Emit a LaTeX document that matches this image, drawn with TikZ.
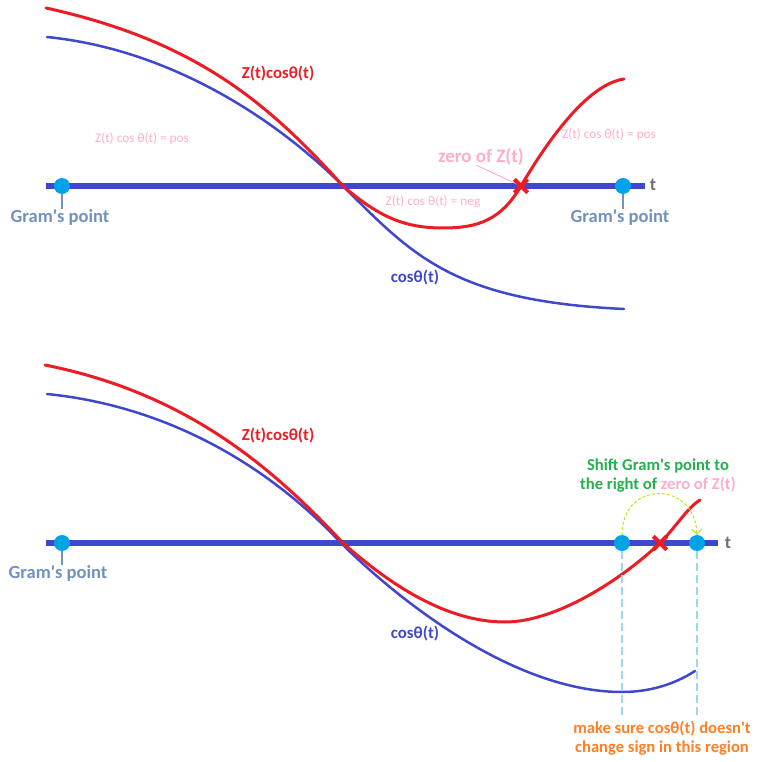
\documentclass[tikz,border=0pt]{standalone}
\usepackage{fontspec}
\setmainfont{Carlito}
\usetikzlibrary{arrows.meta}
\definecolor{axisblue}{RGB}{63,72,204}
\definecolor{curvered}{RGB}{237,28,36}
\definecolor{dotblue}{RGB}{0,162,232}
\definecolor{gramgray}{RGB}{112,146,190}
\definecolor{pinktext}{RGB}{255,174,201}
\definecolor{greentext}{RGB}{34,177,76}
\definecolor{orangetext}{RGB}{255,127,39}
\definecolor{tgray}{RGB}{112,112,112}
\definecolor{lightturq}{RGB}{153,217,234}
\definecolor{limegreen}{RGB}{181,230,29}
\newcommand{\ap}{\textquotesingle}
\tikzset{
  axisline/.style={draw=axisblue,line width=5.5pt},
  redcurve/.style={draw=curvered,line width=3pt,line cap=round},
  bluecurve/.style={draw=axisblue,line width=2.5pt,line cap=round},
  gramdot/.style={circle,fill=dotblue,minimum size=16pt,inner sep=0pt},
  gramlabel/.style={text=gramgray,font=\bfseries\fontsize{18.5}{21}\selectfont,inner sep=0pt},
  ticklink/.style={draw=gramgray,line width=1.2pt},
  signlabel/.style={text=pinktext,font=\fontsize{13.3}{15}\selectfont,inner sep=0pt},
  zerolabel/.style={text=pinktext,font=\bfseries\fontsize{19}{22}\selectfont,inner sep=0pt},
  curvelabelred/.style={text=curvered,font=\bfseries\fontsize{16.8}{19}\selectfont,inner sep=0pt},
  curvelabelblue/.style={text=axisblue,font=\bfseries\fontsize{16.8}{19}\selectfont,inner sep=0pt},
  tlabel/.style={text=tgray,font=\bfseries\fontsize{18}{21}\selectfont,inner sep=0pt},
  xmark/.style={inner sep=0pt,minimum size=13pt},
  xstroke/.style={draw=curvered,line width=4pt},
  guide/.style={draw=lightturq,line width=1.2pt,dash pattern=on 8pt off 4pt},
  notegreen/.style={text=greentext,font=\bfseries\fontsize{16.6}{19}\selectfont,align=center,inner sep=0pt},
  noteorange/.style={text=orangetext,font=\bfseries\fontsize{16.6}{19}\selectfont,align=center,inner sep=0pt},
}
\begin{document}
\begin{tikzpicture}[x=1pt,y=-1pt]
\useasboundingbox (0,0) rectangle (763,762);
% ---------------- top panel ----------------
\coordinate (a1s) at (46,186);
\coordinate (a1e) at (645,186);
\draw[axisline] (a1s) -- (a1e);
\draw[bluecurve] (47,37) .. controls (167,49) and (273,116) .. (343,186)
  .. controls (413,256) and (454,301) .. (624,309);
\draw[redcurve] (46,8) .. controls (196,41) and (268,103) .. (343,186)
  .. controls (378,216) and (403,228) .. (443,228)
  .. controls (478,228) and (501,220) .. (521,186)
  .. controls (548,140) and (588,84) .. (624,79);
\node[gramdot] (g1) at (62,186) {};
\node[gramdot] (g2) at (623,186) {};
\node[gramlabel] (gl1) at (60,217) {Gram\ap s point};
\node[gramlabel] (gl2) at (620,217) {Gram\ap s point};
\draw[ticklink] (g1.south) -- (g1.south |- gl1.north);
\draw[ticklink] (g2.south) -- (g2.south |- gl2.north);
\node[tlabel] (t1) at (653,185) {t};
\node[curvelabelred] (zc1) at (278,74) {Z(t)cosθ(t)};
\node[curvelabelblue] (cc1) at (415,278) {cosθ(t)};
\node[signlabel] (sp1) at (142,139) {Z(t) cos θ(t) = pos};
\node[signlabel] (sp2) at (609,135) {Z(t) cos θ(t) = pos};
\node[signlabel] (sn1) at (433,202) {Z(t) cos θ(t) = neg};
\node[zerolabel] (zl1) at (481,157) {zero of Z(t)};
\node[xmark] (x1) at (521,186) {};
\draw[pinktext,line width=0.9pt] (476,165) -- (x1.center);
\draw[xstroke] (x1.north west) -- (x1.south east) (x1.north east) -- (x1.south west);
% ---------------- bottom panel ----------------
\coordinate (a2s) at (46,543);
\coordinate (a2e) at (718,543);
\draw[axisline] (a2s) -- (a2e);
\draw[bluecurve] (47,394) .. controls (157,405) and (260,457) .. (340,542)
  .. controls (395,597) and (512,692) .. (622,692)
  .. controls (650,692) and (675,684) .. (695,671);
\draw[redcurve] (45,365) .. controls (185,393) and (270,465) .. (343,543)
  .. controls (388,583) and (445,622) .. (505,622)
  .. controls (555,622) and (620,581) .. (660,543)
  .. controls (675,528) and (688,507) .. (700,500);
\node[gramdot] (g3) at (62,543) {};
\node[gramdot] (g4) at (622,543) {};
\node[gramdot] (g5) at (697,543) {};
\node[gramlabel] (gl3) at (58,573) {Gram\ap s point};
\draw[ticklink] (g3.south) -- (g3.south |- gl3.north);
\node[tlabel] (t2) at (728,543) {t};
\node[curvelabelred] (zc2) at (278,436) {Z(t)cosθ(t)};
\node[curvelabelblue] (cc2) at (415,634) {cosθ(t)};
\node[xmark] (x2) at (660,543) {};
\draw[xstroke] (x2.north west) -- (x2.south east) (x2.north east) -- (x2.south west);
\draw[draw=limegreen,line width=1pt,dash pattern=on 3pt off 2pt,-{Straight Barb[length=5pt,width=10pt]}] (g4.north) .. controls (622,480) and (695,480) .. (g5.north);
\node[notegreen] (note1) at (658,476) {Shift Gram\ap s point to\\the right of \textcolor{pinktext}{zero of Z(t)}};
\coordinate (v1) at (622,718);
\coordinate (v2) at (697,718);
\draw[guide] (g4.south) -- (v1);
\draw[guide] (g5.south) -- (v2);
\node[noteorange] (note2) at (662,738) {make sure cosθ(t) doesn\ap t\\change sign in this region};
\end{tikzpicture}
\end{document}
